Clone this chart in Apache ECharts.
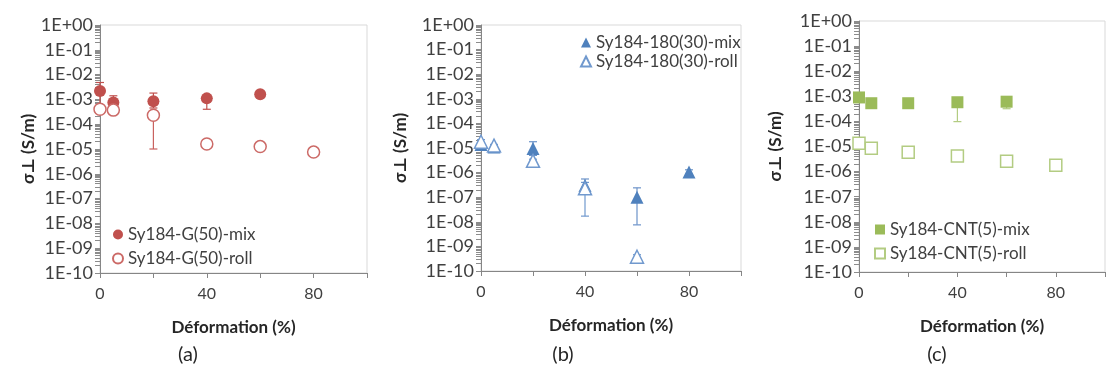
<!DOCTYPE html>
<html>
<head>
<meta charset="utf-8">
<script src="https://cdn.jsdelivr.net/npm/echarts@6/dist/echarts.min.js"></script>
<style>html,body{margin:0;padding:0;background:#fff;}#c{width:1108px;height:373px;}</style>
</head>
<body>
<div id="c"></div>
<script>
// ---- tick labels ----
const yTickExponents = [0,-1,-2,-3,-4,-5,-6,-7,-8,-9,-10];
const yTickLabels = ['1E+00','1E-01','1E-02','1E-03','1E-04','1E-05','1E-06','1E-07','1E-08','1E-09','1E-10'];
const xTickLabels = [0, 40, 80];
const xTitle = 'Déformation (%)';
const yTitle = 'σ⊥ (S/m)';
const panelLabels = ['(a)', '(b)', '(c)'];

// ---- panel (a) ----
const namesA = ['Sy184-G(50)-mix', 'Sy184-G(50)-roll'];
const xA_mix = [0, 5, 20, 40, 60];
const yA_mix = [2.2e-3, 7.5e-4, 8.5e-4, 1.1e-3, 1.6e-3];
const loA_mix = [3.0e-4, 5.0e-4, 4.5e-4, 4.0e-4, 1.4e-3];
const hiA_mix = [4.8e-3, 1.4e-3, 1.8e-3, 1.5e-3, 1.8e-3];
const xA_roll = [0, 5, 20, 40, 60, 80];
const yA_roll = [4.0e-4, 3.7e-4, 2.3e-4, 1.6e-5, 1.25e-5, 7.5e-6];
const loA_roll = [3.5e-4, 3.3e-4, 1.0e-5, 1.5e-5, 1.2e-5, 7.0e-6];
const hiA_roll = [4.5e-4, 4.2e-4, 3.3e-4, 1.8e-5, 1.35e-5, 8.0e-6];

// ---- panel (b) ----
const namesB = ['Sy184-180(30)-mix', 'Sy184-180(30)-roll'];
const xB_mix = [0, 5, 20, 40, 60, 80];
const yB_mix = [1.4e-5, 1.1e-5, 9.5e-6, 3.0e-7, 1.0e-7, 1.05e-6];
const loB_mix = [1.2e-5, 1.0e-5, 5.0e-6, 1.5e-7, 7.5e-9, 8.5e-7];
const hiB_mix = [1.6e-5, 1.2e-5, 1.8e-5, 5.5e-7, 2.4e-7, 1.3e-6];
const xB_roll = [0, 5, 20, 40, 60];
const yB_roll = [1.8e-5, 1.25e-5, 3.0e-6, 2.3e-7, 3.8e-10];
const loB_roll = [1.5e-5, 1.1e-5, 2.5e-6, 1.7e-8, 3.2e-10];
const hiB_roll = [2.2e-5, 1.4e-5, 3.5e-6, 4.0e-7, 4.6e-10];

// ---- panel (c) ----
const namesC = ['Sy184-CNT(5)-mix', 'Sy184-CNT(5)-roll'];
const xC_mix = [0, 5, 20, 40, 60];
const yC_mix = [9.0e-4, 5.3e-4, 5.3e-4, 5.8e-4, 6.1e-4];
const loC_mix = [8.0e-4, 4.8e-4, 4.8e-4, 9.8e-5, 3.2e-4];
const hiC_mix = [1.0e-3, 5.8e-4, 5.8e-4, 7.5e-4, 7.0e-4];
const xC_roll = [0, 5, 20, 40, 60, 80];
const yC_roll = [1.35e-5, 8.5e-6, 5.9e-6, 4.2e-6, 2.6e-6, 1.8e-6];

// ---- build ----
const FONT = 'Lato, "DejaVu Sans", sans-serif';
const decadeValues = yTickExponents.map(e => Math.pow(10, e));
// log minor tick values: k * 10^e
const minorValues = [];
yTickExponents.forEach(e => {
  if (e === 0) { minorValues.push(1); return; }
  for (let k = 1; k <= 9; k++) minorValues.push(k * Math.pow(10, e));
});
function yLabel(v) {
  const e = Math.round(Math.log10(v));
  const i = yTickExponents.indexOf(e);
  return i >= 0 ? yTickLabels[i] : '';
}
function pts(xs, ys) { return xs.map((x, i) => [x, ys[i]]); }
function errs(xs, lo, hi) { return xs.map((x, i) => [x, lo[i], hi[i]]); }

const panels = [
  {grid: {left: 100, top: 25, width: 267, height: 248}, nameGap: 61,
   legend: {left: 112, top: 226, itemGap: 7}, names: namesA,
   mixColor: '#C0504D', rollColor: '#CC6A67', mixErr: '#C0504D', rollErr: '#C9625F',
   symbol: 'circle', mixSize: 12, rollSize: 12,
   mix: pts(xA_mix, yA_mix), roll: pts(xA_roll, yA_roll),
   mixE: errs(xA_mix, loA_mix, hiA_mix), rollE: errs(xA_roll, loA_roll, hiA_roll)},
  {grid: {left: 481, top: 25, width: 260, height: 246}, nameGap: 72,
   legend: {left: 580, top: 34, itemGap: 2}, names: namesB,
   mixColor: '#4F81BD', rollColor: '#7199CE', mixErr: '#6C93C9', rollErr: '#7199CE',
   symbol: 'triangle', mixSize: 13, rollSize: 13,
   mix: pts(xB_mix, yB_mix), roll: pts(xB_roll, yB_roll),
   mixE: errs(xB_mix, loB_mix, hiB_mix), rollE: errs(xB_roll, loB_roll, hiB_roll)},
  {grid: {left: 859, top: 21, width: 261, height: 251}, nameGap: 75,
   legend: {left: 874, top: 221, itemGap: 7}, names: namesC,
   mixColor: '#9BBB59', rollColor: '#B3CC82', mixErr: '#B3CC82', rollErr: '#B3CC82',
   symbol: 'rect', mixSize: 12, rollSize: 12,
   mix: pts(xC_mix, yC_mix), roll: pts(xC_roll, yC_roll),
   mixE: errs(xC_mix, loC_mix, hiC_mix), rollE: []}
];

function errRender(color) {
  return function (params, api) {
    const x = api.value(0), lo = api.value(1), hi = api.value(2);
    const a = api.coord([x, hi]), b = api.coord([x, lo]);
    const cap = 4;
    const st = {stroke: color, lineWidth: 1.2};
    return {type: 'group', children: [
      {type: 'line', shape: {x1: a[0], y1: a[1], x2: b[0], y2: b[1]}, style: st},
      {type: 'line', shape: {x1: a[0] - cap, y1: a[1], x2: a[0] + cap, y2: a[1]}, style: st},
      {type: 'line', shape: {x1: b[0] - cap, y1: b[1], x2: b[0] + cap, y2: b[1]}, style: st}
    ]};
  };
}

const option = {
  animation: false,
  backgroundColor: '#fff',
  textStyle: {fontFamily: FONT},
  grid: [], xAxis: [], yAxis: [], series: [], legend: [],
  graphic: []
};

panels.forEach((p, i) => {
  option.grid.push(Object.assign({show: true, borderColor: '#D9D9D9', borderWidth: 1, backgroundColor: 'transparent'}, p.grid));
  option.xAxis.push({
    type: 'value', gridIndex: i, min: 0, max: 100, interval: 20,
    name: xTitle, nameLocation: 'middle', nameGap: 46,
    nameTextStyle: {fontFamily: FONT, fontWeight: 'bold', fontSize: 17, color: '#262626'},
    axisLine: {show: true, lineStyle: {color: '#868686', width: 1}},
    axisTick: {show: true, inside: false, length: 5, lineStyle: {color: '#868686'}},
    axisLabel: {fontFamily: FONT, fontSize: 16, color: '#404040', margin: 13,
      formatter: v => (xTickLabels.indexOf(v) >= 0 ? String(v) : '')},
    splitLine: {show: false}
  });
  option.yAxis.push({
    type: 'log', logBase: 10, gridIndex: i, min: 1e-10, max: 1,
    name: yTitle, nameLocation: 'middle', nameRotate: 90, nameGap: p.nameGap,
    nameTextStyle: {fontFamily: FONT, fontWeight: 'bold', fontSize: 17, color: '#262626'},
    axisLine: {show: true, lineStyle: {color: '#868686', width: 1}},
    axisTick: {show: true, inside: false, length: 5, customValues: minorValues, lineStyle: {color: '#8C8C8C', width: 1}},
    axisLabel: {fontFamily: FONT, fontSize: 18, color: '#404040', margin: 7, customValues: decadeValues, formatter: yLabel},
    minorTick: {show: false},
    splitLine: {show: false}
  });
  option.series.push({
    type: 'custom', xAxisIndex: i, yAxisIndex: i, renderItem: errRender(p.mixErr),
    data: p.mixE, encode: {x: 0, y: [1, 2]}, z: 1, clip: false, silent: true
  });
  option.series.push({
    type: 'custom', xAxisIndex: i, yAxisIndex: i, renderItem: errRender(p.rollErr),
    data: p.rollE, encode: {x: 0, y: [1, 2]}, z: 1, clip: false, silent: true
  });
  option.series.push({
    name: p.names[0], type: 'scatter', xAxisIndex: i, yAxisIndex: i, data: p.mix,
    symbol: p.symbol, symbolSize: p.mixSize, clip: false, z: 2,
    itemStyle: {color: p.mixColor, opacity: 1}
  });
  option.series.push({
    name: p.names[1], type: 'scatter', xAxisIndex: i, yAxisIndex: i, data: p.roll,
    symbol: p.symbol, symbolSize: p.rollSize, clip: false, z: 3,
    itemStyle: {color: '#ffffff', borderColor: p.rollColor, borderWidth: 1.5, opacity: 1}
  });
  option.legend.push({
    orient: 'vertical', left: p.legend.left, top: p.legend.top, padding: 0,
    itemGap: p.legend.itemGap, itemWidth: 10, itemHeight: 10,
    data: p.names.map(n => ({name: n})),
    textStyle: {fontFamily: FONT, fontSize: 17, color: '#404040', lineHeight: 17, padding: [0, 0, 0, 0]},
    selectedMode: false
  });
  option.graphic.push({
    type: 'text', x: [188, 563, 937][i], y: 355,
    style: {text: panelLabels[i], fontFamily: FONT, fontSize: 20, fill: '#262626', align: 'center', verticalAlign: 'middle'}
  });
});

const chart = echarts.init(document.getElementById('c'), null, {renderer: 'canvas'});
chart.setOption(option);
</script>
</body>
</html>
